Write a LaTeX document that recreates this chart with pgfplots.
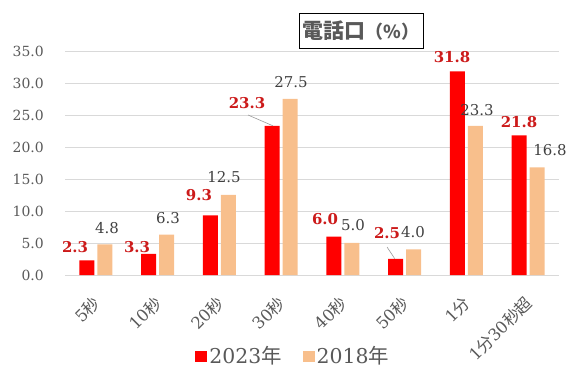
\documentclass[border=0pt]{standalone}
\usepackage{fontspec}
\setmainfont{DejaVu Serif}
\newfontfamily\cjk{Noto Sans CJK JP}
\usepackage{pgfplots}
\pgfplotsset{compat=1.18}
\definecolor{c23}{HTML}{FF0000}
\definecolor{c18}{HTML}{F8BF8C}
\definecolor{lab23}{HTML}{CC1A1A}
\definecolor{labgray}{HTML}{404040}
\definecolor{tickgray}{HTML}{595959}
\definecolor{gridgray}{HTML}{D9D9D9}
\newcommand{\fs}[1]{\fontsize{#1}{#1}\selectfont}
\begin{document}
\begin{tikzpicture}
\begin{axis}[
  at={(65bp,96bp)}, anchor=south west,
  width=494bp, height=224bp, scale only axis, clip=false,
  ymin=0, ymax=35, xmin=-0.5, xmax=7.5,
  ybar, bar width=0.243,
  ytick={0,5,...,35},
  xtick={0,...,7},
  xticklabels={5{\cjk 秒},10{\cjk 秒},20{\cjk 秒},30{\cjk 秒},40{\cjk 秒},50{\cjk 秒},1{\cjk 分},1{\cjk 分}30{\cjk 秒超}},
  ymajorgrids, grid style={gridgray, line width=0.75pt},
  axis line style={draw=none},
  major tick length=0pt,
  yticklabel style={font=\fs{14}, color=tickgray, inner sep=0pt, xshift=-21bp},
  xticklabel style={font=\fs{16.5}, color=tickgray, inner sep=0pt, yshift=-25bp, xshift=1bp, rotate=45, anchor=east},
  legend style={at={(axis description cs:0.462,-0.362)}, anchor=center, draw=none, fill=none,
    font=\fs{20.5}, text=tickgray, legend columns=2,
    /tikz/every even column/.append style={column sep=19bp}},
  legend image code/.code={\fill[#1] (0bp,-5.5bp) rectangle (12bp,5.5bp);},
  /pgf/number format/fixed, /pgf/number format/fixed zerofill,
  /pgf/number format/precision=1, /pgf/number format/assume math mode=true,
]
\addplot[fill=c23, draw=none, bar shift=-0.146] coordinates {(0,2.3)(1,3.3)(2,9.3)(3,23.3)(4,6.0)(5,2.5)(6,31.8)(7,21.8)};
\addplot[fill=c18, draw=none, bar shift=0.146] coordinates {(0,4.8)(1,6.3)(2,12.5)(3,27.5)(4,5.0)(5,4.0)(6,23.3)(7,16.8)};
\legend{2023{\cjk 年},2018{\cjk 年}}
% leader lines
\draw[gray!80, line width=0.6pt] (axis cs:2.464,25.0) -- (axis cs:2.87,23.3);
\draw[gray!80, line width=0.6pt] (axis cs:4.715,4.375) -- (axis cs:4.84,2.55);
% 2023 labels
\begin{scope}[every node/.style={text=lab23, font=\bfseries\fs{15}}]
\node at (axis cs:-0.338,4.38) {2.3};
\node at (axis cs:0.666,4.38) {3.3};
\node at (axis cs:1.670,12.5) {9.3};
\node at (axis cs:2.447,26.9) {23.3};
\node at (axis cs:3.711,8.75) {6.0};
\node at (axis cs:4.715,6.56) {2.5};
\node at (axis cs:5.767,34.06) {31.8};
\node at (axis cs:6.852,23.9) {21.8};
\end{scope}
% 2018 labels
\begin{scope}[every node/.style={text=labgray, font=\fs{15}}]
\node at (axis cs:0.180,7.34) {4.8};
\node at (axis cs:1.168,8.9) {6.3};
\node at (axis cs:2.075,15.3) {12.5};
\node at (axis cs:3.160,30.2) {27.5};
\node at (axis cs:4.164,7.8) {5.0};
\node at (axis cs:5.136,6.7) {4.0};
\node at (axis cs:6.172,25.8) {23.3};
\node at (axis cs:7.354,19.5) {16.8};
\end{scope}
\end{axis}
\node[draw=black, line width=0.9pt, minimum width=124bp, minimum height=35bp, inner sep=0pt, text=tickgray]
  at (361bp,340.5bp) {{\cjk\bfseries\fs{21}電話口}{\cjk\bfseries\fs{18}（\%）}};
\pgfresetboundingbox
\path (0,0) rectangle (572bp,371bp);
\end{tikzpicture}
\end{document}
